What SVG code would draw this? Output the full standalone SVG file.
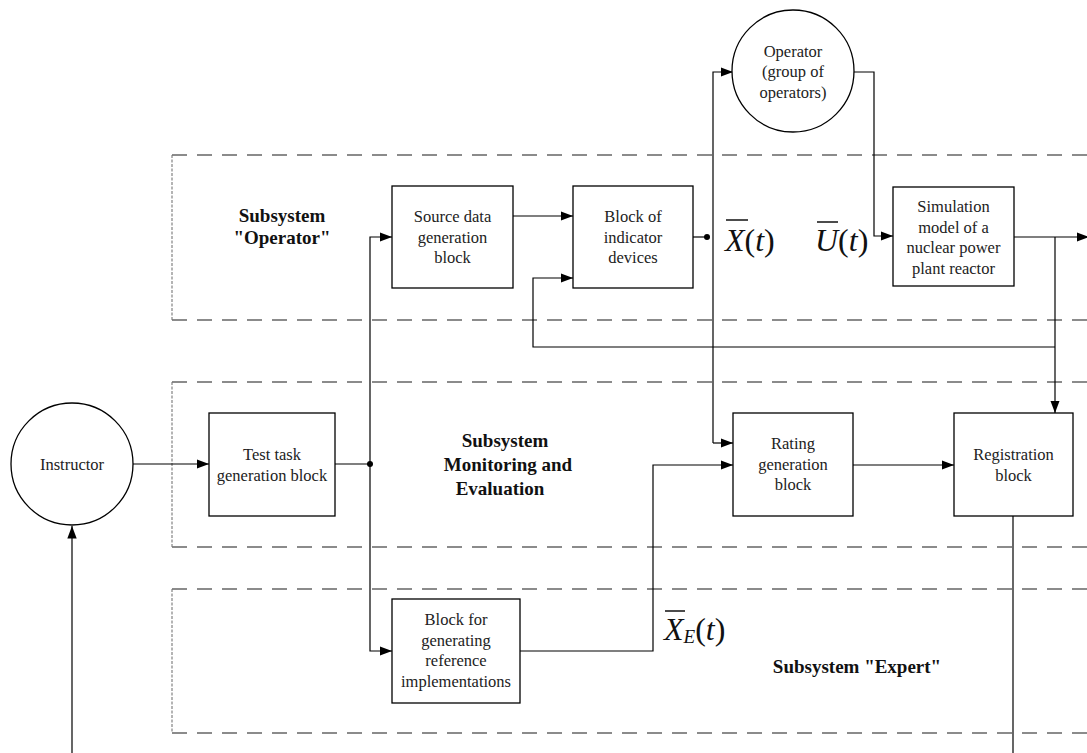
<svg xmlns="http://www.w3.org/2000/svg" width="1087" height="753" viewBox="0 0 1087 753">
<defs>
<style>
.box{fill:#fff;stroke:#000;stroke-width:1.3}
.t{font-family:"Liberation Serif","Times New Roman",serif;font-size:16.5px;fill:#222;text-anchor:middle}
.b{font-family:"Liberation Serif","Times New Roman",serif;font-size:19px;font-weight:bold;fill:#111;text-anchor:middle}
.m{font-family:"Liberation Serif","Times New Roman",serif;font-size:32px;fill:#111}
.c{fill:none;stroke:#000;stroke-width:1.2}
.dh{fill:none;stroke:#666;stroke-width:1.4;stroke-dasharray:15 10}
.dv{fill:none;stroke:#777;stroke-width:1.1;stroke-dasharray:3 1.5}
.bar{stroke:#111;stroke-width:1.5}
</style>
<marker id="ah" markerWidth="13" markerHeight="10" refX="12.5" refY="5" orient="auto" markerUnits="userSpaceOnUse">
<path d="M0,0.3 L12.5,5 L0,9.7 z" fill="#000"/>
</marker>
</defs>
<rect width="1087" height="753" fill="#fff"/>

<g id="subsystem-operator">
<path class="dh" d="M172,155 H1087 M172,320 H1087"/>
<path class="dv" d="M172,155 V320"/>
<text class="b" x="282" y="222">Subsystem</text>
<text class="b" x="282" y="244">"Operator"</text>
</g>
<g id="subsystem-monitoring">
<path class="dh" d="M172,382 H1087 M172,547 H1087"/>
<path class="dv" d="M172,382 V547"/>
<text class="b" x="505" y="447">Subsystem</text>
<text class="b" x="508" y="471">Monitoring and</text>
<text class="b" x="500" y="495">Evaluation</text>
</g>
<g id="subsystem-expert">
<path class="dh" d="M172,589 H1087 M172,733 H1087"/>
<path class="dv" d="M172,589 V733"/>
<text class="b" x="857" y="673">Subsystem "Expert"</text>
</g>

<g id="connectors">
<path class="c" d="M133,464 H209" marker-end="url(#ah)"/>
<path class="c" d="M335,464 H370"/>
<path class="c" d="M370,464 V237 H392" marker-end="url(#ah)"/>
<path class="c" d="M370,464 V651 H392" marker-end="url(#ah)"/>
<path class="c" d="M513,216 H573" marker-end="url(#ah)"/>
<path class="c" d="M693,237 H707"/>
<path class="c" d="M713,443 V72 H733" marker-end="url(#ah)"/>
<path class="c" d="M713,443 H733" marker-end="url(#ah)"/>
<path class="c" d="M853,72 H874 V236 H893" marker-end="url(#ah)"/>
<path class="c" d="M1014,237 H1089" marker-end="url(#ah)"/>
<path class="c" d="M1055,237 V413" marker-end="url(#ah)"/>
<path class="c" d="M1055,347 H533 V278 H573" marker-end="url(#ah)"/>
<path class="c" d="M520,651 H653 V465 H733" marker-end="url(#ah)"/>
<path class="c" d="M853,465 H954" marker-end="url(#ah)"/>
<path class="c" d="M1013,516 V753"/>
<path class="c" d="M72,753 V526" marker-end="url(#ah)"/>
<circle cx="370" cy="464" r="3" fill="#000"/>
<circle cx="707" cy="237" r="3" fill="#000"/>
</g>

<g id="instructor">
<circle cx="72" cy="464" r="61" class="box"/>
<text class="t" x="72" y="470">Instructor</text>
</g>
<g id="operator">
<circle cx="793" cy="71" r="61" class="box"/>
<text class="t" x="793" y="56.5">Operator</text>
<text class="t" x="793" y="77">(group of</text>
<text class="t" x="793" y="97.5">operators)</text>
</g>
<g id="test-task">
<rect class="box" x="209" y="413" width="126" height="103"/>
<text class="t" x="272" y="460">Test task</text>
<text class="t" x="272" y="481">generation block</text>
</g>
<g id="source-data">
<rect class="box" x="392" y="186" width="121" height="102"/>
<text class="t" x="452.5" y="222">Source data</text>
<text class="t" x="452.5" y="242.5">generation</text>
<text class="t" x="452.5" y="263">block</text>
</g>
<g id="indicator">
<rect class="box" x="573" y="186" width="120" height="102"/>
<text class="t" x="633" y="222">Block of</text>
<text class="t" x="633" y="242.5">indicator</text>
<text class="t" x="633" y="263">devices</text>
</g>
<g id="simulation">
<rect class="box" x="893" y="187" width="121" height="99"/>
<text class="t" x="953.5" y="212">Simulation</text>
<text class="t" x="953.5" y="232.5">model of a</text>
<text class="t" x="953.5" y="253">nuclear power</text>
<text class="t" x="953.5" y="273.5">plant reactor</text>
</g>
<g id="rating">
<rect class="box" x="733" y="413" width="120" height="103"/>
<text class="t" x="793" y="449">Rating</text>
<text class="t" x="793" y="469.5">generation</text>
<text class="t" x="793" y="490">block</text>
</g>
<g id="registration">
<rect class="box" x="954" y="413" width="119" height="103"/>
<text class="t" x="1013.5" y="460">Registration</text>
<text class="t" x="1013.5" y="481">block</text>
</g>
<g id="reference">
<rect class="box" x="392" y="599" width="128" height="104"/>
<text class="t" x="456" y="625">Block for</text>
<text class="t" x="456" y="645.5">generating</text>
<text class="t" x="456" y="666">reference</text>
<text class="t" x="456" y="686.5">implementations</text>
</g>

<g id="labels">
<text class="m" x="725" y="251"><tspan font-style="italic">X</tspan>(<tspan font-style="italic">t</tspan>)</text>
<line class="bar" x1="726" y1="220" x2="748" y2="220"/>
<text class="m" x="815" y="251"><tspan font-style="italic">U</tspan>(<tspan font-style="italic">t</tspan>)</text>
<line class="bar" x1="817" y1="222" x2="838" y2="222"/>
<text class="m" x="664" y="640" font-size="30"><tspan font-style="italic">X</tspan><tspan font-style="italic" font-size="19" dy="3">E</tspan><tspan dy="-3">(</tspan><tspan font-style="italic">t</tspan>)</text>
<line class="bar" x1="665" y1="611" x2="685" y2="611"/>
</g>
</svg>
